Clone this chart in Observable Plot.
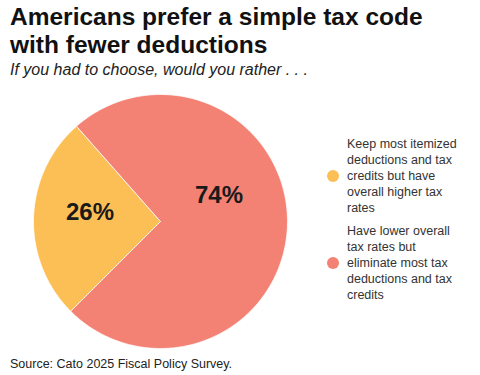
<!DOCTYPE html>
<html>
<head>
<meta charset="utf-8">
<script src="https://cdn.jsdelivr.net/npm/d3@7"></script>
<script src="https://cdn.jsdelivr.net/npm/@observablehq/plot@0.6"></script>
<style>
  html, body { margin: 0; padding: 0; background: #fff; }
  body { width: 480px; height: 375px; position: relative; overflow: hidden; font-family: "Liberation Sans", Arial, sans-serif; color: #111; }
  #title { position: absolute; left: 10px; top: 3px; font-size: 24.5px; line-height: 28px; font-weight: bold; color: #111; }
  #subtitle { position: absolute; left: 10px; top: 60px; font-size: 16px; line-height: 20px; font-style: italic; color: #222; }
  #chart { position: absolute; left: 0; top: 84px; }
  #legend { position: absolute; left: 327px; top: 136px; font-size: 12.5px; line-height: 16px; color: #333; }
  .item { display: flex; align-items: center; margin-bottom: 7px; }
  .sw { width: 12px; height: 12px; border-radius: 50%; margin-right: 8px; flex: none; }
  .lab { white-space: pre-line; }
  #source { position: absolute; left: 10px; top: 356px; font-size: 12.5px; line-height: 16px; color: #222; }
</style>
</head>
<body>
<div id="title">Americans prefer a simple tax code<br>with fewer deductions</div>
<div id="subtitle">If you had to choose, would you rather . . .</div>
<div id="chart"></div>
<div id="legend"></div>
<div id="source">Source: Cato 2025 Fiscal Policy Survey.</div>
<script>
const categories = ["Keep itemized deductions", "Lower rates, fewer deductions"];
const values = [26, 74];
const labels = ["26%", "74%"];
const colors = ["#FCBF55", "#F38274"];
const legendLines = [
  ["Keep most itemized", "deductions and tax", "credits but have", "overall higher tax", "rates"],
  ["Have lower overall", "tax rates but", "eliminate most tax", "deductions and tax", "credits"]
];

const rows = categories.map((c, i) => ({cat: c, value: values[i], label: labels[i]}));
const pie = d3.pie().value(d => d.value).sort(null)
  .startAngle(Math.PI * 1.25).endAngle(Math.PI * 3.25);
const arcs = pie(rows);

const pts = [];
arcs.forEach(a => {
  pts.push({cat: a.data.cat, x: 0, y: 0});
  const n = Math.max(2, Math.ceil((a.endAngle - a.startAngle) / (Math.PI / 360)));
  for (let k = 0; k <= n; k++) {
    const t = a.startAngle + (a.endAngle - a.startAngle) * k / n;
    pts.push({cat: a.data.cat, x: Math.sin(t), y: Math.cos(t)});
  }
  pts.push({cat: a.data.cat, x: 0, y: 0});
});

const labelPts = arcs.map(a => {
  const m = (a.startAngle + a.endAngle) / 2;
  return {cat: a.data.cat, label: a.data.label, x: 0.5 * Math.sin(m), y: 0.5 * Math.cos(m)};
});

const chart = Plot.plot({
  width: 480,
  height: 272,
  style: {background: "transparent", overflow: "visible"},
  x: {domain: [-1, 1], range: [33, 287], axis: null},
  y: {domain: [-1, 1], range: [264, 10], axis: null},
  color: {domain: categories, range: colors},
  marks: [
    Plot.line(pts, {x: "x", y: "y", z: "cat", fill: "cat", stroke: "#fff", strokeWidth: 0.8, curve: "linear"}),
    Plot.text(labelPts.filter(d => d.label === "26%"), {x: "x", y: "y", text: "label", dx: -7, dy: -7, fontSize: 24, fontWeight: "bold", fill: "#1a1a1a", fontFamily: "Liberation Sans, Arial, sans-serif"}),
    Plot.text(labelPts.filter(d => d.label === "74%"), {x: "x", y: "y", text: "label", dx: -5, dy: -28, fontSize: 24, fontWeight: "bold", fill: "#1a1a1a", fontFamily: "Liberation Sans, Arial, sans-serif"})
  ]
});
document.getElementById("chart").appendChild(chart);

const legend = document.getElementById("legend");
categories.forEach((c, i) => {
  const item = document.createElement("div");
  item.className = "item";
  const sw = document.createElement("div");
  sw.className = "sw";
  sw.style.background = colors[i];
  const lab = document.createElement("div");
  lab.className = "lab";
  lab.textContent = legendLines[i].join("\n");
  item.appendChild(sw);
  item.appendChild(lab);
  legend.appendChild(item);
});
</script>
</body>
</html>
